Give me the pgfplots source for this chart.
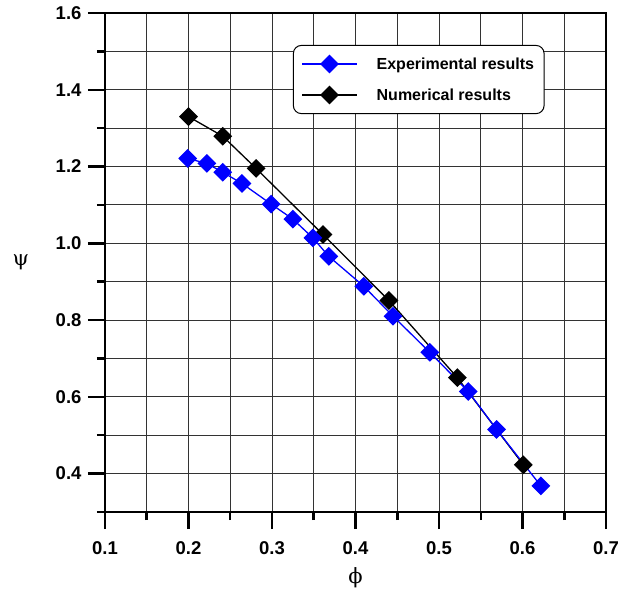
\documentclass[border=0pt]{standalone}
\usepackage{fontspec}
\setmainfont{Liberation Sans}
\newfontfamily\greekfont{DejaVu Serif}
\usepackage{pgfplots}
\pgfplotsset{compat=1.18}

\begin{document}
\begin{tikzpicture}
\begin{axis}[
  scale only axis,
  width=501pt, height=499pt,
  xmin=0.1, xmax=0.7,
  ymin=0.3, ymax=1.6,
  clip=false,
  xtick={0.1,0.2,0.3,0.4,0.5,0.6,0.7},
  ytick={0.4,0.6,0.8,1.0,1.2,1.4,1.6},
  minor xtick={0.15,0.25,0.35,0.45,0.55,0.65},
  minor ytick={0.3,0.5,0.7,0.9,1.1,1.3,1.5},
  grid=both,
  grid style={black!80, line width=0.9pt},
  minor grid style={black!80, line width=0.9pt},
  xtick pos=bottom, ytick pos=left,
  tick align=outside,
  tickwidth=17pt,
  subtickwidth=8pt,
  major tick style={black, line width=2.5pt},
  minor tick style={black, line width=2.5pt},
  axis line style={line width=2.5pt},
  /pgf/number format/.cd, fixed, fixed zerofill, precision=1, assume math mode=true,
  /pgfplots/.cd,
  tick label style={font=\bfseries\fontsize{18.5}{20}\selectfont},
  xticklabel style={yshift=-9pt},
  yticklabel style={xshift=-3pt},
  xlabel={\greekfont ϕ},
  ylabel={\greekfont ψ},
  label style={font=\fontsize{21}{24}\selectfont},
  xlabel style={at={(axis description cs:0.5,-0.132)}, anchor=center},
  ylabel style={at={(axis description cs:-0.168,0.5)}, anchor=center, rotate=-90},
  reverse legend,
  legend cell align=left,
  legend image code/.code={\draw[mark repeat=2,mark phase=2,#1] plot coordinates {(0pt,0pt) (27.5pt,0pt) (55pt,0pt)};},
  legend style={at={(0.375,0.936)}, anchor=north west, draw=black, line width=1pt,
    rounded corners=8pt, font=\bfseries\fontsize{16}{18}\selectfont,
    inner xsep=8pt, inner ysep=10pt, row sep=14pt,
    /tikz/every odd column/.append style={column sep=17pt}},
]
\addplot[black, line width=1.3pt, mark=square*, mark size=6pt, mark options={rotate=45, solid}] coordinates {
  (0.200, 1.330)
  (0.241, 1.279)
  (0.281, 1.195)
  (0.361, 1.023)
  (0.440, 0.851)
  (0.522, 0.650)
  (0.601, 0.423)
};
\addlegendentry{Numerical results}
\addplot[blue, line width=1.3pt, mark=square*, mark size=6pt, mark options={rotate=45, solid}] coordinates {
  (0.199, 1.221)
  (0.222, 1.208)
  (0.241, 1.185)
  (0.264, 1.156)
  (0.299, 1.102)
  (0.325, 1.063)
  (0.349, 1.014)
  (0.368, 0.966)
  (0.410, 0.888)
  (0.445, 0.810)
  (0.489, 0.716)
  (0.535, 0.614)
  (0.569, 0.515)
  (0.622, 0.368)
};
\addlegendentry{Experimental results}
% long ticks at the labelled positions
\pgfplotsinvokeforeach{0.1,0.2,0.3,0.4,0.5,0.6,0.7}{
  \draw[black, line width=2.5pt] (axis cs:#1,0.3) -- ++(0pt,-17pt);
}
\pgfplotsinvokeforeach{0.4,0.6,0.8,1.0,1.2,1.4,1.6}{
  \draw[black, line width=2.5pt] (axis cs:0.1,#1) -- ++(-17pt,0pt);
}
\coordinate (llc) at (rel axis cs:0,0);
\end{axis}
\pgfresetboundingbox
\path[use as bounding box] (llc) ++(-105pt,-87pt) rectangle ++(621pt,599pt);
\end{tikzpicture}
\end{document}
